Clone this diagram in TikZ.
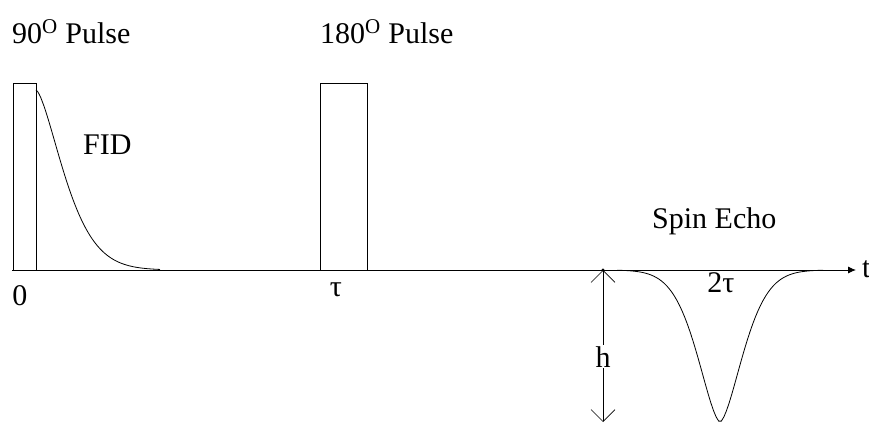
\documentclass[tikz,border=0pt]{standalone}
\usepackage{fontspec}
\setmainfont{Liberation Serif}
\usetikzlibrary{arrows.meta}

\begin{document}
\begin{tikzpicture}[x=1pt,y=-1pt,every node/.style={font=\fontsize{30}{32}\selectfont,inner sep=0pt},
    pulse/.style={draw=black,line width=0.9pt},
    signal/.style={draw=black,line width=0.8pt},
    lbl/.style={anchor=base west},
    gap/.style={fill=white,inner sep=1pt}]
    \useasboundingbox (0,0) rectangle (869,423);
    % time axis
    \coordinate (origin) at (12,270);
    \coordinate (tend) at (856,270);
    \draw[line width=0.9pt,-{Latex[length=8pt,width=7pt]}] (origin) -- (tend);
    \node[lbl] (t) at (862,277) {t};
    % pulses
    \draw[pulse] (13,270) rectangle (36,83);
    \draw[pulse] (320,270) rectangle (367,83);
    \node[lbl] (p90) at (12,43) {90\textsuperscript{O} Pulse};
    \node[lbl] (p180) at (320,43) {180\textsuperscript{O} Pulse};
    % FID and echo
    \draw[signal] plot[domain=0.01:124,samples=80] ({36+\x},{270-180*exp(-(\x/38.6)^1.5)});
    \draw[signal] plot[domain=-103:103,samples=80] ({720+\x},{270+152*exp(-(abs(\x)/32)^1.6)});
    \node[lbl] (fid) at (83,154) {FID};
    \node[lbl] (echo) at (652,228) {Spin Echo};
    % time marks
    \node[anchor=base] (zero) at (20,305) {0};
    \node[anchor=base] (tau) at (336,296) {τ};
    \node[anchor=base] (twotau) at (721,292) {2τ};
    % echo height
    \coordinate (htop) at (603,270);
    \coordinate (hbot) at (603,422);
    \fill (htop) circle (1.6);
    \draw[line width=0.6pt,{Straight Barb[length=12pt,width=24pt]}-{Straight Barb[length=12pt,width=24pt]}] (htop) -- (hbot);
    \node[anchor=base,gap] (h) at (603,367) {h};
\end{tikzpicture}
\end{document}
